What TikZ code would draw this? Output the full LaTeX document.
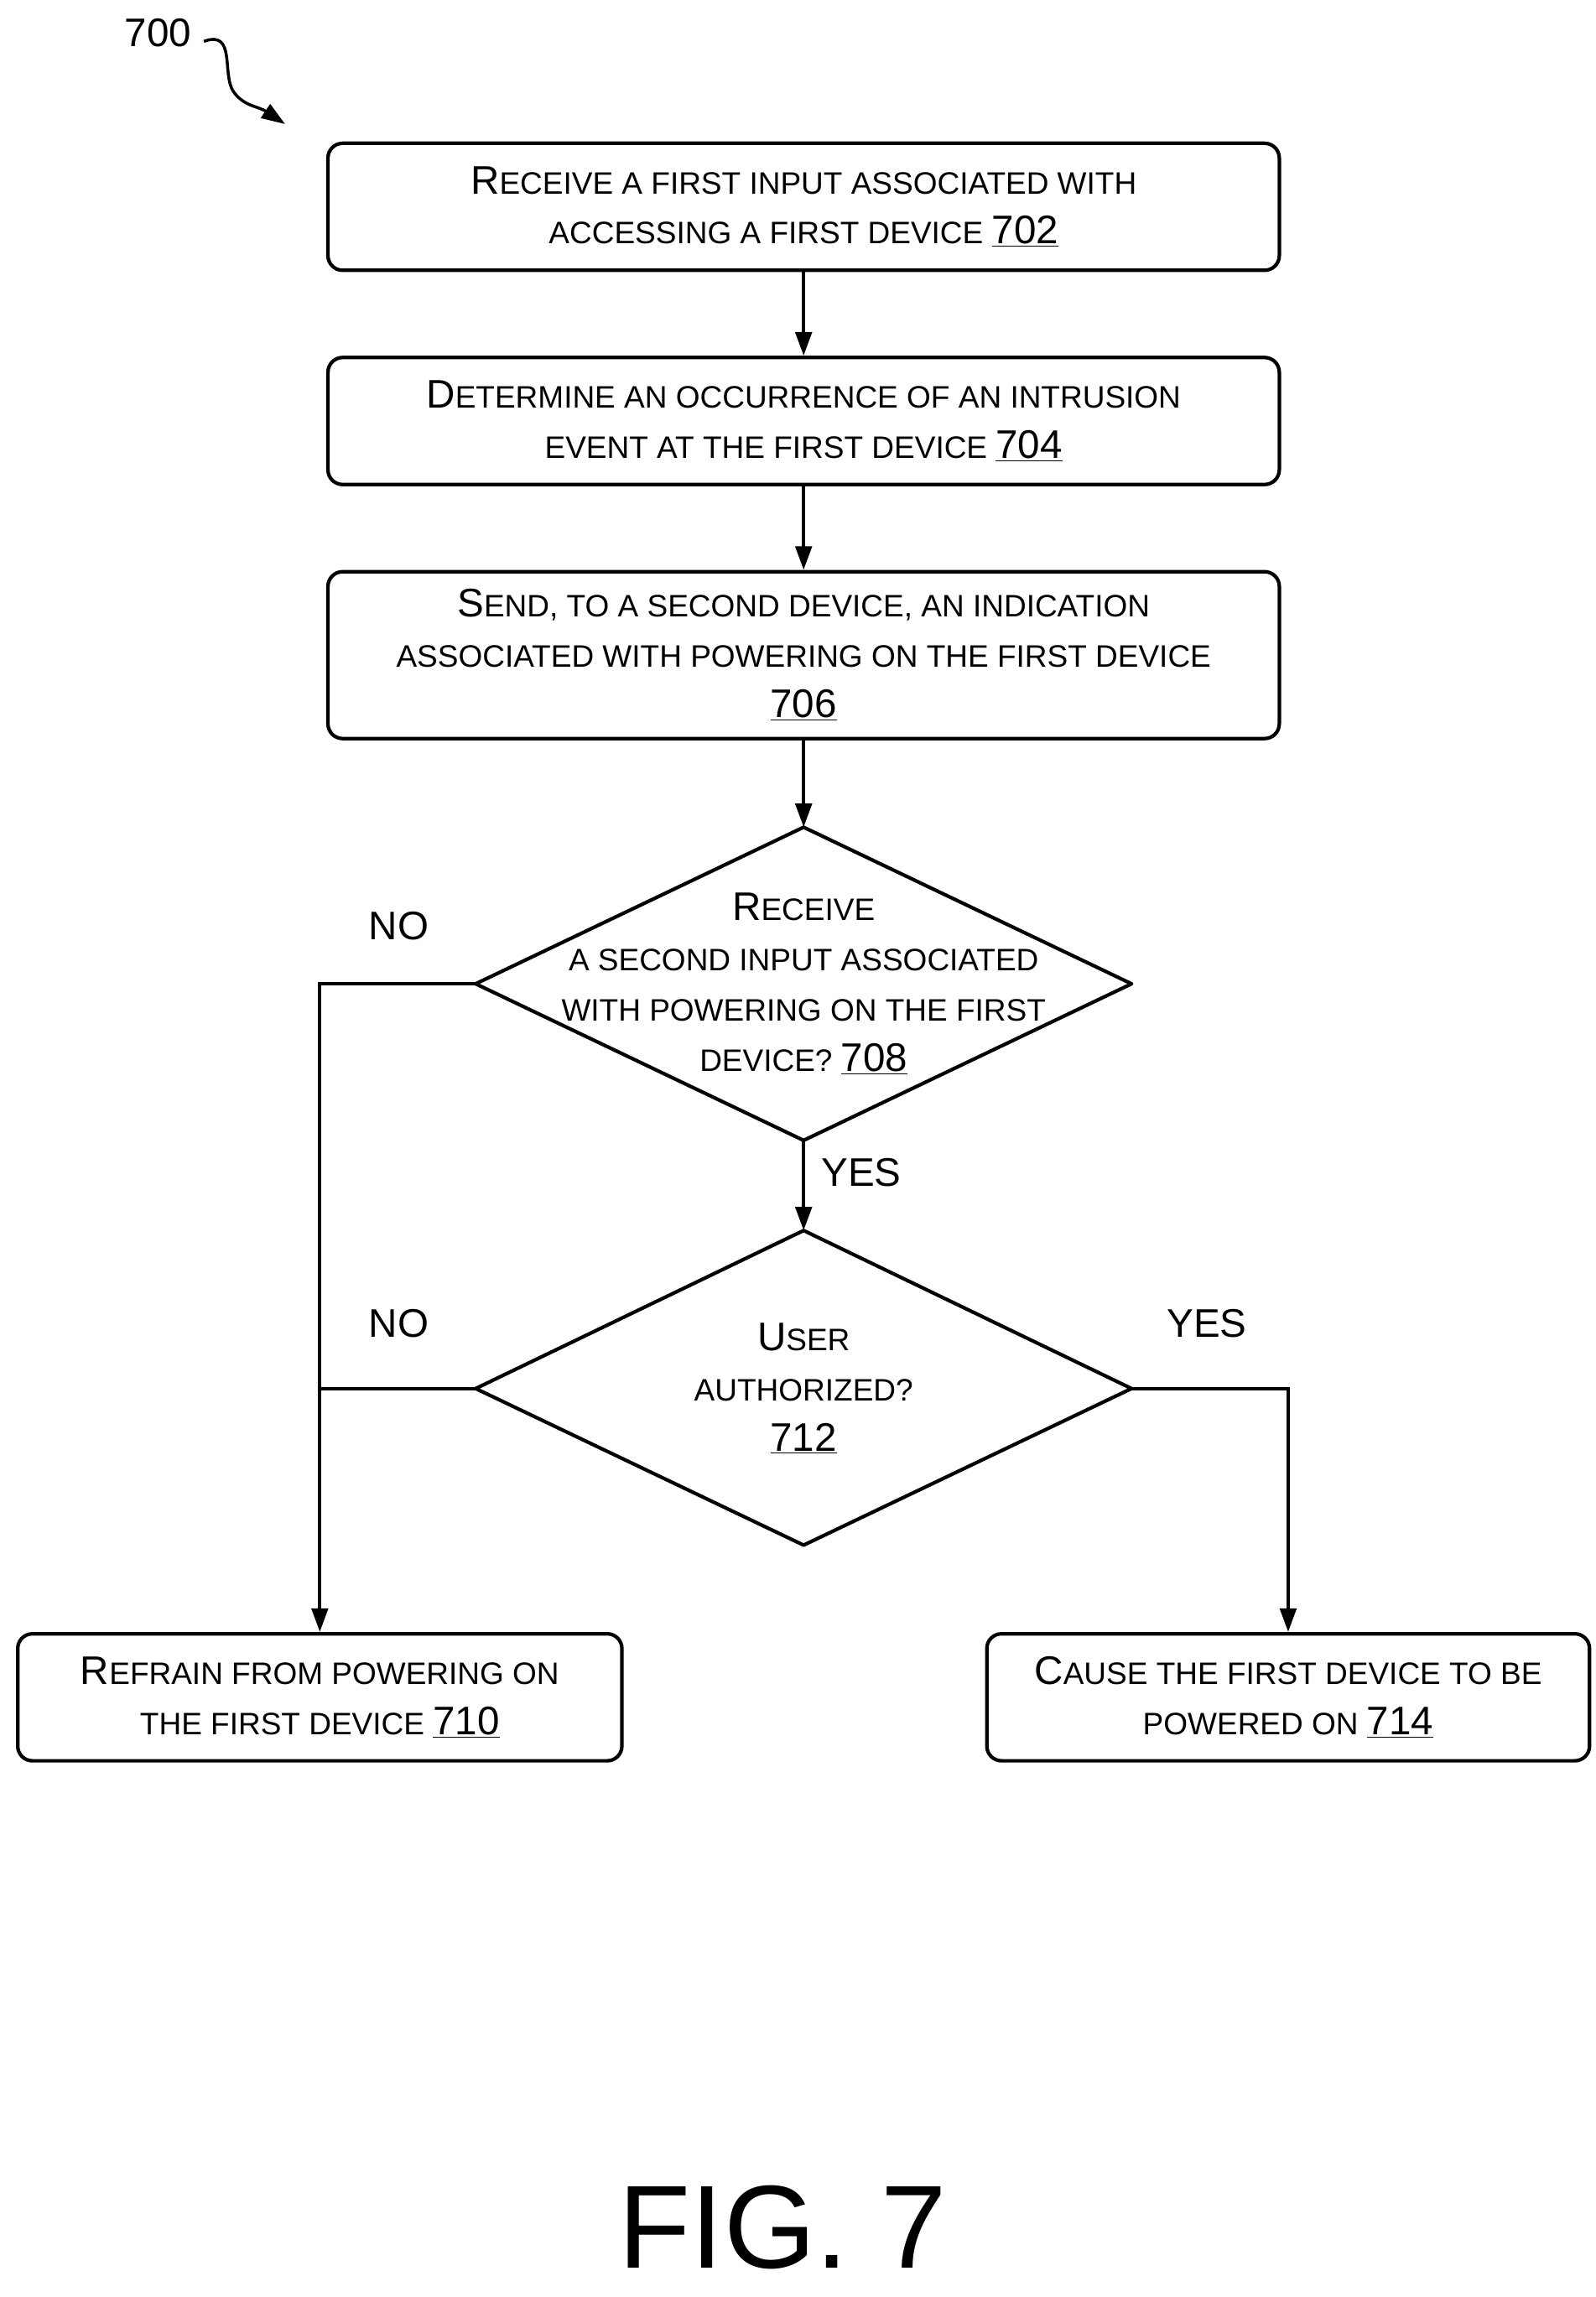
\documentclass[tikz,border=0pt]{standalone}
\usepackage{fontspec}
\setmainfont{Liberation Sans}
\usetikzlibrary{shapes.geometric,arrows.meta,decorations.pathmorphing}
\newcommand{\Bg}[1]{{\fontsize{27}{29}\selectfont #1}}
\newcommand{\Num}[1]{\Bg{\underline{#1}}}
\begin{document}
\begin{tikzpicture}[x=1pt,y=-1pt,
  every node/.style={font=\fontsize{21}{34}\selectfont},
  box/.style={draw,line width=2.4pt,rounded corners=10pt,align=center,inner sep=0},
  lbl/.style={font=\fontsize{27}{29}\selectfont},
  arr/.style={line width=2.4pt,-{Triangle[length=16pt,width=11pt]}},
  ln/.style={line width=2.4pt}]
\useasboundingbox (0,0) rectangle (1080,1555);
\node[box,minimum width=644pt,minimum height=86pt] (b702) at (544,140) {\Bg{R}ECEIVE A FIRST INPUT ASSOCIATED WITH\\ACCESSING A FIRST DEVICE \Num{702}};
\node[box,minimum width=644pt,minimum height=86pt] (b704) at (544,285) {\Bg{D}ETERMINE AN OCCURRENCE OF AN INTRUSION\\EVENT AT THE FIRST DEVICE \Num{704}};
\node[box,minimum width=644pt,minimum height=113pt] (b706) at (544,443.5) {\Bg{S}END, TO A SECOND DEVICE, AN INDICATION\\ASSOCIATED WITH POWERING ON THE FIRST DEVICE\\\Num{706}};
\node[box,minimum width=409pt,minimum height=86pt] (b710) at (216.5,1149) {\Bg{R}EFRAIN FROM POWERING ON\\THE FIRST DEVICE \Num{710}};
\node[box,minimum width=408pt,minimum height=86pt] (b714) at (872,1149) {\Bg{C}AUSE THE FIRST DEVICE TO BE\\POWERED ON \Num{714}};
\coordinate (d1t) at (544,560); \coordinate (d1b) at (544,772);
\coordinate (d1l) at (322,666); \coordinate (d1r) at (766,666);
\draw[ln,line join=round] (d1t) -- (d1r) -- (d1b) -- (d1l) -- cycle;
\node[align=center] (t708) at (544,666) {\Bg{R}ECEIVE\\A SECOND INPUT ASSOCIATED\\WITH POWERING ON THE FIRST\\DEVICE? \Num{708}};
\coordinate (d2t) at (544,833); \coordinate (d2b) at (544,1046);
\coordinate (d2l) at (322,940); \coordinate (d2r) at (766,940);
\draw[ln,line join=round] (d2t) -- (d2r) -- (d2b) -- (d2l) -- cycle;
\node[align=center] (t712) at (544,940) {\Bg{U}SER\\AUTHORIZED?\\\Num{712}};
\draw[arr] (b702) -- (b704);
\draw[arr] (b704) -- (b706);
\draw[arr] (b706) -- (d1t);
\draw[arr] (d1b) -- (d2t);
\draw[arr] (d1l) -| (b710.north);
\draw[ln] (d2l) -- (216,940);
\draw[arr] (d2r) -| (b714.north);
\node[lbl] (no1) at (270,627) {NO};
\node[lbl] (no2) at (270,896) {NO};
\node[lbl] (yes1) at (583,794) {YES};
\node[lbl] (yes2) at (817,896) {YES};
\node[lbl] (n700) at (107,22) {700};
\coordinate (a700) at (193,84);
\draw[line width=2pt,-{Triangle[length=16pt,width=11pt]}] (138,28) .. controls (160,20) and (150,50) .. (158,62) .. controls (165,72) and (175,72) .. (a700);
\node[font=\fontsize{80}{86}\selectfont] (fig) at (530,1508) {FIG. 7};
\end{tikzpicture}
\end{document}
